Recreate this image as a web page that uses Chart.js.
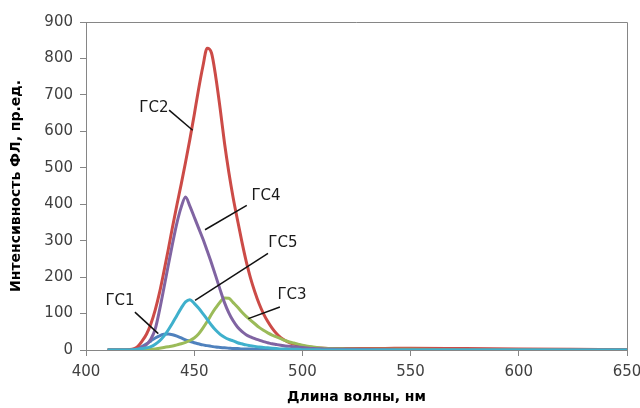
<!DOCTYPE html>
<html>
<head>
<meta charset="utf-8">
<script src="https://cdn.jsdelivr.net/npm/chart.js@4.4.1/dist/chart.umd.min.js"></script>
<style>
  html, body { margin: 0; padding: 0; background: #fff; }
  #wrap { width: 640px; height: 408px; }
</style>
</head>
<body>
<div id="wrap"><canvas id="spectra"></canvas></div>
<script>
// wavelength grid, nm
const wavelengths = [410, 415, 420, 422, 424, 426, 428, 430, 432, 434, 436, 438, 440, 442, 444, 446, 448, 450,
    452, 454, 456, 458, 460, 462, 464, 466, 468, 470, 472, 474, 476, 478, 480, 482, 484, 486, 488, 490,
    492, 494, 496, 498, 500, 505, 510, 520, 535, 550, 575, 600, 625, 650];

// fluorescence intensity, a.u.
const gs1 = [0, 0, 1, 2, 5, 10, 17, 25, 33, 39, 43, 44, 42, 38, 33, 28, 24, 20,
    17, 14, 12, 10, 8, 7, 6, 5, 4, 4, 3, 3, 3, 2, 2, 2, 2, 1, 1, 1,
    1, 1, 1, 1, 1, 0, 0, 0, 0, 0, 0, 0, 0, 0];
const gs2 = [0, 0, 1, 3, 10, 25, 44, 72, 110, 158, 215, 275, 338, 398, 455, 515, 578, 645,
    715, 778, 828, 815, 748, 662, 568, 488, 418, 357, 298, 244, 198, 160, 127, 100, 78, 60, 45, 34,
    26, 20, 16, 13, 11, 7, 5, 4, 4, 5, 4, 3, 2, 1];
const gs3 = [0, 0, 0, 0, 0, 0, 1, 2, 3, 5, 7, 9, 11, 14, 17, 21, 26, 33,
    44, 60, 78, 98, 116, 132, 143, 142, 130, 118, 104, 92, 82, 72, 62, 54, 47, 41, 36, 31,
    26, 22, 19, 16, 13, 8, 5, 3, 2, 2, 1, 1, 0, 0];
const gs4 = [0, 0, 0, 1, 3, 7, 15, 30, 58, 110, 170, 232, 292, 348, 392, 420, 395, 365,
    335, 305, 272, 238, 202, 165, 130, 102, 80, 63, 51, 42, 36, 31, 27, 23, 20, 17, 15, 13,
    11, 10, 9, 8, 7, 4, 3, 2, 1, 0, 0, 0, 0, 0];
const gs5 = [0, 0, 0, 1, 2, 4, 6, 9, 16, 25, 38, 55, 74, 95, 115, 132, 138, 128,
    115, 100, 84, 68, 54, 43, 35, 29, 25, 20, 17, 14, 12, 10, 8, 7, 6, 5, 4, 3,
    3, 2, 2, 2, 1, 1, 0, 0, 0, 0, 0, 0, 0, 0];

const xTicks = [400, 450, 500, 550, 600, 650];
const yTicks = [0, 100, 200, 300, 400, 500, 600, 700, 800, 900];

// callout labels: text position and leader line, in data units
const callouts = [
    { text: 'ГС2', at: [431.4, 663], from: [438.4, 658], to: [449.3, 603] },
    { text: 'ГС4', at: [483.2, 422], from: [474.3, 397], to: [455.0, 330] },
    { text: 'ГС5', at: [491.0, 293], from: [484.1, 265], to: [450.4, 136] },
    { text: 'ГС3', at: [495.2, 150], from: [489.6, 118], to: [475.0, 86] },
    { text: 'ГС1', at: [415.7, 133], from: [422.6, 104], to: [433.4, 45] }
];

function points(vals) {
    return wavelengths.map((w, i) => ({ x: w, y: vals[i] }));
}

function series(label, vals, color, order) {
    return {
        label: label,
        data: points(vals),
        borderColor: color,
        backgroundColor: color,
        borderWidth: 3,
        pointRadius: 0,
        cubicInterpolationMode: 'monotone',
        order: order
    };
}

const axisGray = '#868686';

const decorations = {
    id: 'decorations',
    beforeDatasetsDraw(chart) {
        const { ctx, chartArea } = chart;
        ctx.save();
        ctx.strokeStyle = axisGray;
        ctx.lineWidth = 1;
        ctx.beginPath();
        ctx.moveTo(chartArea.left, chartArea.top + 0.5);
        ctx.lineTo(chartArea.right + 0.5, chartArea.top + 0.5);
        ctx.lineTo(chartArea.right + 0.5, chartArea.bottom);
        ctx.stroke();
        ctx.restore();
    },
    afterDraw(chart) {
        const { ctx, chartArea } = chart;
        const xs = chart.scales.x, ys = chart.scales.y;
        ctx.save();
        ctx.strokeStyle = '#111';
        ctx.lineWidth = 1.5;
        ctx.fillStyle = '#1a1a1a';
        ctx.font = '15px "DejaVu Sans"';
        ctx.textAlign = 'center';
        ctx.textBaseline = 'middle';
        callouts.forEach(c => {
            ctx.beginPath();
            ctx.moveTo(xs.getPixelForValue(c.from[0]), ys.getPixelForValue(c.from[1]));
            ctx.lineTo(xs.getPixelForValue(c.to[0]), ys.getPixelForValue(c.to[1]));
            ctx.stroke();
            ctx.fillText(c.text, xs.getPixelForValue(c.at[0]), ys.getPixelForValue(c.at[1]));
        });

        // axis titles
        ctx.fillStyle = '#000';
        ctx.font = 'bold 14px "DejaVu Sans"';
        ctx.fillText('Длина волны, нм', (chartArea.left + chartArea.right) / 2, 397);
        ctx.translate(16, (chartArea.top + chartArea.bottom) / 2);
        ctx.rotate(-Math.PI / 2);
        ctx.fillText('Интенсивность ФЛ, пр.ед.', 0, 0);
        ctx.restore();
    }
};

new Chart(document.getElementById('spectra'), {
    type: 'line',
    data: {
        datasets: [
            series('ГС1', gs1, '#4f81bd', 4),
            series('ГС2', gs2, '#cc4b47', 3),
            series('ГС3', gs3, '#9bbb59', 2),
            series('ГС4', gs4, '#8064a2', 1),
            series('ГС5', gs5, '#3fb0cc', 0)
        ]
    },
    options: {
        responsive: true,
        maintainAspectRatio: false,
        animation: false,
        layout: { padding: { top: 22, right: 13, left: 0, bottom: 0 } },
        plugins: {
            legend: { display: false },
            tooltip: { enabled: false }
        },
        scales: {
            x: {
                type: 'linear',
                min: 400,
                max: 650,
                afterBuildTicks: scale => { scale.ticks = xTicks.map(v => ({ value: v })); },
                afterFit: scale => {
                    scale.height = 58;
                    scale.paddingLeft = 0;
                    scale.paddingRight = 0;
                },
                grid: { drawOnChartArea: false, tickLength: 6, color: axisGray },
                border: { color: axisGray },
                ticks: {
                    color: '#404040',
                    padding: 7,
                    maxRotation: 0,
                    font: { family: 'DejaVu Sans', size: 15 }
                }
            },
            y: {
                min: 0,
                max: 900,
                afterBuildTicks: scale => { scale.ticks = yTicks.map(v => ({ value: v })); },
                afterFit: scale => {
                    scale.width = 86;
                    scale.paddingTop = 0;
                    scale.paddingBottom = 0;
                },
                grid: { drawOnChartArea: false, tickLength: 6, color: axisGray },
                border: { color: axisGray },
                ticks: {
                    color: '#404040',
                    padding: 7,
                    font: { family: 'DejaVu Sans', size: 15 }
                }
            }
        }
    },
    plugins: [decorations]
});
</script>
</body>
</html>
